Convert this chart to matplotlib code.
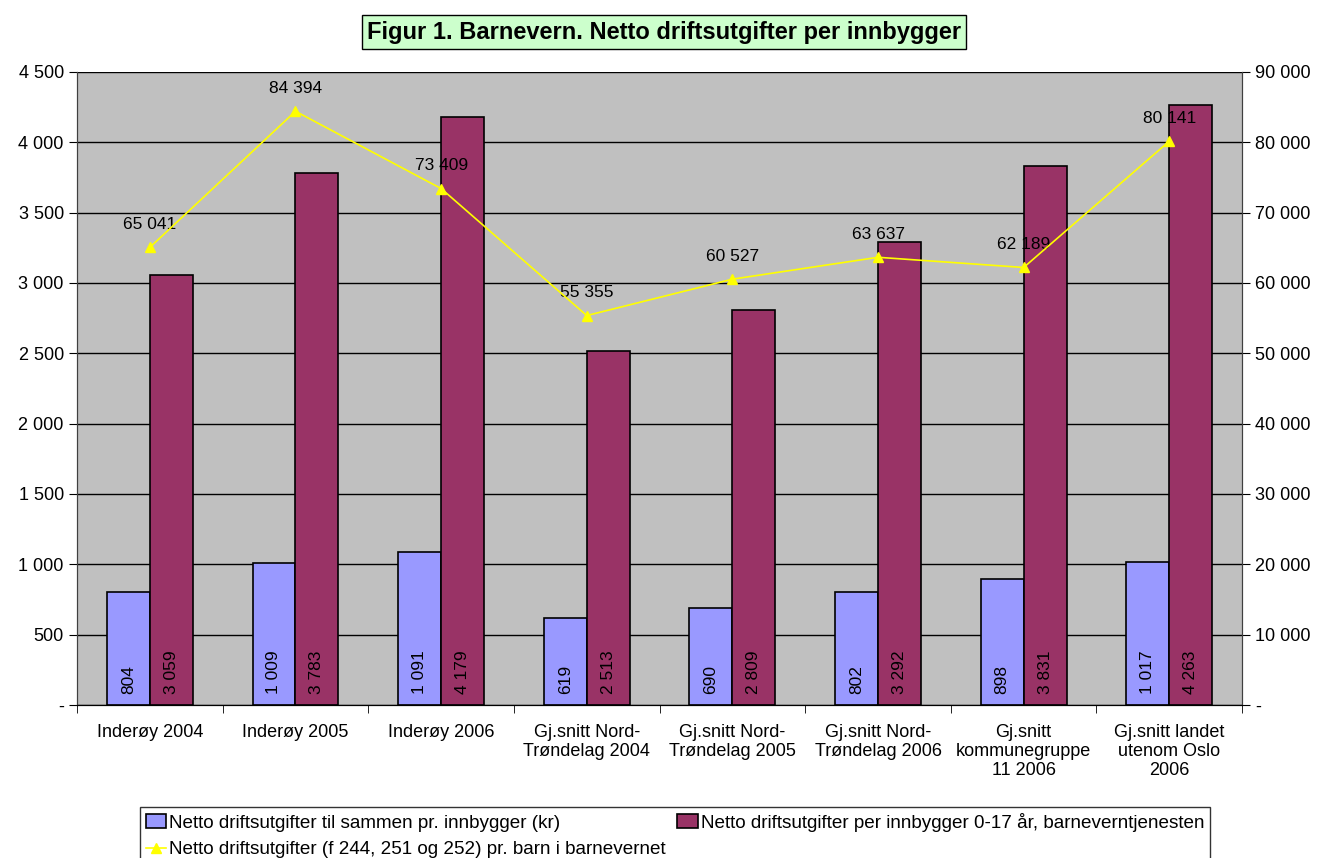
import numpy as np
import matplotlib.pyplot as plt
from matplotlib.ticker import FuncFormatter, FixedLocator

plt.rcParams['font.family'] = ['Liberation Sans', 'DejaVu Sans']

categories = ["Inderøy 2004", "Inderøy 2005", "Inderøy 2006",
              "Gj.snitt Nord-\nTrøndelag 2004", "Gj.snitt Nord-\nTrøndelag 2005",
              "Gj.snitt Nord-\nTrøndelag 2006", "Gj.snitt\nkommunegruppe\n11 2006",
              "Gj.snitt landet\nutenom Oslo\n2006"]
total_per_innb = [804, 1009, 1091, 619, 690, 802, 898, 1017]
barnevern_0_17 = [3059, 3783, 4179, 2513, 2809, 3292, 3831, 4263]
per_barn = [65041, 84394, 73409, 55355, 60527, 63637, 62189, 80141]

label_total = "Netto driftsutgifter til sammen pr. innbygger (kr)"
label_0_17 = "Netto driftsutgifter per innbygger 0-17 år, barneverntjenesten"
label_barn = "Netto driftsutgifter (f 244, 251 og 252) pr. barn i barnevernet"
title = "Figur 1. Barnevern. Netto driftsutgifter per innbygger"


def fmt(v):
    if v == 0:
        return "-"
    return "{:,}".format(int(round(v))).replace(",", " ")


fig = plt.figure(figsize=(13.21, 8.58), dpi=100)
ax = fig.add_axes([0.0583, 0.1783, 0.882, 0.738])
ax2 = ax.twinx()

x = np.arange(len(categories))
w = 0.295

ax.set_facecolor("#C0C0C0")
ax.set_ylim(0, 4500)
ax.set_xlim(-0.5, len(categories) - 0.5)
ax.set_yticks(np.arange(0, 4501, 500))
ax.yaxis.set_major_formatter(FuncFormatter(lambda v, p: fmt(v)))
ax.grid(axis="y", color="black", linewidth=1)
ax.set_axisbelow(True)

b1 = ax.bar(x - w / 2, total_per_innb, w, color="#9999FF", edgecolor="black",
            linewidth=1.2, label=label_total, zorder=2)
b2 = ax.bar(x + w / 2, barnevern_0_17, w, color="#993366", edgecolor="black",
            linewidth=1.2, label=label_0_17, zorder=2)

for xi, v in zip(x, total_per_innb):
    ax.text(xi - w / 2, 80, fmt(v), rotation=90, ha="center", va="bottom",
            fontsize=12.5, zorder=3)
for xi, v in zip(x, barnevern_0_17):
    ax.text(xi + w / 2, 80, fmt(v), rotation=90, ha="center", va="bottom",
            fontsize=12.5, zorder=3)

ax.set_xticks(x)
ax.set_xticklabels(categories, fontsize=13, linespacing=1.15)
ax.tick_params(axis="x", which="major", length=0, pad=14)
ax.xaxis.set_minor_locator(FixedLocator(np.arange(-0.5, len(categories), 1.0)))
ax.tick_params(axis="x", which="minor", length=6, direction="out")
ax.tick_params(axis="y", labelsize=13, length=6, direction="out")

ax2.set_ylim(0, 90000)
ax2.set_yticks(np.arange(0, 90001, 10000))
ax2.yaxis.set_major_formatter(FuncFormatter(lambda v, p: fmt(v)))
ax2.tick_params(axis="y", labelsize=13, length=6, direction="out")
l1, = ax2.plot(x, per_barn, color="#FFFF00", marker="^", markersize=7,
               linewidth=1.2, label=label_barn, zorder=4)
for xi, v in zip(x, per_barn):
    ax2.annotate(fmt(v), (xi, v), xytext=(0, 11), textcoords="offset points",
                 ha="center", va="bottom", fontsize=12.5)

for a in (ax, ax2):
    a.spines["top"].set_visible(False)
    a.spines["left"].set_color("#404040")
    a.spines["right"].set_color("#404040")
    a.spines["bottom"].set_color("black")

fig.text(0.5025, 0.9627, title, ha="center", va="center", fontsize=17,
         fontweight="bold",
         bbox=dict(boxstyle="square,pad=0.22", facecolor="#CCFFCC",
                   edgecolor="black", linewidth=1))

leg = fig.legend([b1, l1, b2], [label_total, label_barn, label_0_17],
                 loc="upper left", bbox_to_anchor=(0.106, 0.0594), ncol=2,
                 fontsize=13.6, frameon=True, fancybox=False, edgecolor="black",
                 handlelength=1.1, handletextpad=0.15, columnspacing=0.6,
                 borderpad=0.3, labelspacing=0.5, borderaxespad=0)
leg.get_frame().set_linewidth(1)

fig.savefig("out.png", dpi=100)
